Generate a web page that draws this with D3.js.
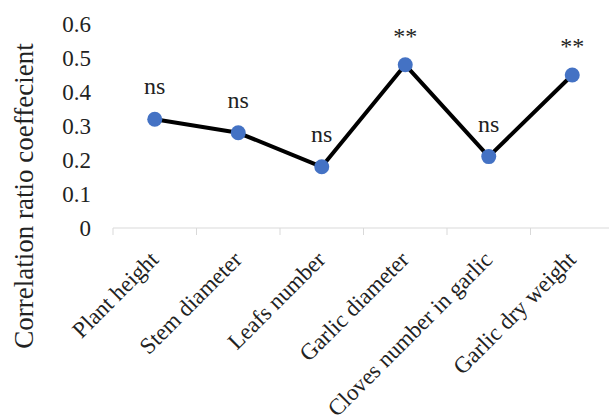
<!DOCTYPE html>
<html>
<head>
<meta charset="utf-8">
<script src="https://cdn.jsdelivr.net/npm/d3@7/dist/d3.min.js"></script>
<style>
  html, body { margin: 0; padding: 0; background: #fff; overflow: hidden; }
  svg { display: block; }
  text { font-family: "Liberation Serif", "Times New Roman", serif; fill: #222; }
</style>
</head>
<body>
<svg id="chart" width="609" height="415"></svg>
<script>
// Correlation ratio of each garlic trait
const categories = ["Plant height", "Stem diameter", "Leafs number", "Garlic diameter", "Cloves number in garlic", "Garlic dry weight"];
const values = [0.32, 0.28, 0.18, 0.48, 0.21, 0.45];
const significance = ["ns", "ns", "ns", "**", "ns", "**"];
const yTicks = [0, 0.1, 0.2, 0.3, 0.4, 0.5, 0.6];

const svg = d3.select("#chart");
const plotLeft = 113, plotRight = 614, plotTop = 24, plotBottom = 228;

const x = d3.scaleBand().domain(categories).range([plotLeft, plotRight]).paddingInner(0).paddingOuter(0);
const y = d3.scaleLinear().domain([0, 0.6]).range([plotBottom, plotTop]);

// Category axis with light grey separators between categories
const xAxis = svg.append("g").attr("transform", `translate(0,${plotBottom})`);
xAxis.append("line")
  .attr("x1", plotLeft).attr("x2", plotRight).attr("y1", 0).attr("y2", 0)
  .attr("stroke", "#d9d9d9").attr("stroke-width", 1);
const bounds = categories.map(c => x(c)).concat([plotRight]);
xAxis.selectAll("line.sep").data(bounds).join("line")
  .attr("class", "sep")
  .attr("x1", d => d).attr("x2", d => d)
  .attr("y1", 0).attr("y2", 7)
  .attr("stroke", "#d9d9d9").attr("stroke-width", 1);

xAxis.selectAll("text.cat").data(categories).join("text")
  .attr("class", "cat")
  .attr("text-anchor", "end")
  .attr("font-size", 23)
  .attr("transform", d => `translate(${x(d) + x.bandwidth() / 2 + 5},${33}) rotate(-45)`)
  .text(d => d);

// Value axis labels (no axis line)
svg.append("g").selectAll("text").data(yTicks).join("text")
  .attr("x", 91)
  .attr("y", d => y(d))
  .attr("dy", "0.33em")
  .attr("text-anchor", "end")
  .attr("font-size", 23)
  .text(d => d === 0 ? "0" : d3.format(".1f")(d));

// Axis title
svg.append("text")
  .attr("transform", `translate(33,${196}) rotate(-90)`)
  .attr("text-anchor", "middle")
  .attr("font-size", 27)
  .text("Correlation ratio coeffecient");

// Line and markers
const cx = (d, i) => x(categories[i]) + x.bandwidth() / 2;
const line = d3.line().x((d, i) => cx(d, i)).y(d => y(d));
svg.append("path")
  .datum(values)
  .attr("d", line)
  .attr("fill", "none")
  .attr("stroke", "#000")
  .attr("stroke-width", 4)
  .attr("stroke-linejoin", "round");

svg.selectAll("circle.pt").data(values).join("circle")
  .attr("class", "pt")
  .attr("cx", cx)
  .attr("cy", d => y(d))
  .attr("r", 7.5)
  .attr("fill", "#4472c4");

// Significance labels above markers
svg.selectAll("text.sig").data(values).join("text")
  .attr("class", "sig")
  .attr("x", cx)
  .attr("y", (d, i) => y(d) - (significance[i] === "**" ? 21 : 25))
  .attr("text-anchor", "middle")
  .attr("font-size", 24)
  .text((d, i) => significance[i]);
</script>
</body>
</html>
